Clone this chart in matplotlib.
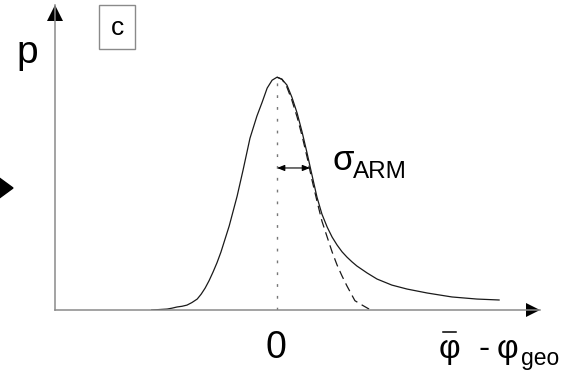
import matplotlib
matplotlib.use("Agg")
import matplotlib.pyplot as plt
from matplotlib.patches import Rectangle, Polygon
from matplotlib.lines import Line2D
from matplotlib.transforms import offset_copy

# Fuente tipo Helvetica para todo el dibujo
plt.rcParams['font.family'] = ['Liberation Sans', 'DejaVu Sans']

# Distribucion medida (linea continua), x en unidades de sigma, p normalizada al pico
solid_x = [-3.8, -3.33, -3.18, -3.03, -2.88, -2.73, -2.58, -2.42, -2.30, -2.18,
           -2.06, -1.94, -1.82, -1.70, -1.45, -1.21, -1.03, -0.82, -0.61, -0.45,
           -0.30, -0.15, 0.0, 0.15, 0.30, 0.45, 0.61, 0.76, 0.91, 1.06,
           1.21, 1.36, 1.52, 1.67, 1.82, 1.97, 2.12, 2.27, 2.42, 2.73,
           3.03, 3.48, 3.94, 4.55, 5.30, 6.06, 6.73]
solid_p = [0.0, 0.004, 0.008, 0.013, 0.016, 0.021, 0.032, 0.047, 0.068, 0.094,
           0.126, 0.163, 0.203, 0.249, 0.361, 0.489, 0.601, 0.738, 0.833, 0.893,
           0.953, 0.987, 1.0, 0.991, 0.966, 0.914, 0.845, 0.764, 0.674, 0.579,
           0.485, 0.412, 0.356, 0.313, 0.279, 0.250, 0.227, 0.207, 0.189, 0.159,
           0.133, 0.107, 0.090, 0.073, 0.056, 0.047, 0.043]

# Gaussiana de referencia (linea discontinua), solo el flanco derecho
gauss_x = [0.0, 0.15, 0.30, 0.45, 0.61, 0.76, 0.91, 1.06, 1.21, 1.36,
           1.52, 1.67, 1.82, 1.97, 2.12, 2.36, 2.58, 2.79]
gauss_p = [1.0, 0.991, 0.957, 0.901, 0.828, 0.747, 0.657, 0.558, 0.468, 0.382,
           0.313, 0.249, 0.193, 0.146, 0.103, 0.040, 0.021, 0.004]

# Ancho sigma_ARM marcado con la flecha doble
sigma_arm = 1.0
sigma_level = 0.61

x_min, x_max = -6.73, 7.97
p_max = 1.31

W, H = 561, 374
fig = plt.figure(figsize=(W / 100, H / 100), dpi=100)
ax = fig.add_axes([55 / W, 64 / H, 485 / W, 305 / H])
ax.set_xlim(x_min, x_max)
ax.set_ylim(0, p_max)

for s in ['top', 'right']:
    ax.spines[s].set_visible(False)
for s in ['left', 'bottom']:
    ax.spines[s].set_color('#8a8a8a')
    ax.spines[s].set_linewidth(1.1)
ax.set_xticks([])
ax.set_yticks([])

# Puntas de flecha de los ejes
ax.plot(1, 0, marker='>', ms=10, mew=0, color='k', clip_on=False,
        transform=offset_copy(ax.transAxes, fig=fig, x=-7, y=0, units='dots'))
ax.plot(0, 1, marker='^', ms=11.5, mew=0, color='k', clip_on=False,
        transform=offset_copy(ax.transAxes, fig=fig, x=0, y=-8, units='dots'))

# Curvas
ax.plot(solid_x, solid_p, color='#1a1a1a', lw=0.9, solid_joinstyle='round')
ax.plot(gauss_x, gauss_p, color='#1a1a1a', lw=0.9, linestyle=(0, (7, 4)))

# Linea punteada en el cero
ax.plot([0, 0], [0, max(solid_p)], color='#777777', lw=1.0, linestyle=(0, (2, 6.5)))

# Flecha doble de sigma_ARM
ax.annotate('', xy=(sigma_arm, sigma_level), xytext=(0, sigma_level),
            arrowprops=dict(arrowstyle='<|-|>,head_length=0.45,head_width=0.18',
                            color='k', lw=0.8, shrinkA=0, shrinkB=0))

# Textos
fig.text(27 / W, 1 - 63 / H, 'p', fontsize=28, ha='center', va='baseline')
fig.text(276 / W, 1 - 358 / H, '0', fontsize=27, ha='center', va='baseline')
fig.text(332 / W, 1 - 170 / H, 'σ', fontsize=25, ha='left', va='baseline')
fig.text(353 / W, 1 - 178 / H, 'ARM', fontsize=17.5, ha='left', va='baseline')

# Etiqueta del eje x: phi media menos phi_geo
fig.text(449.5 / W, 1 - 358 / H, 'φ', fontsize=24, ha='center', va='baseline')
fig.add_artist(Line2D([443 / W, 456 / W], [1 - 332 / H, 1 - 332 / H],
                      transform=fig.transFigure, color='k', lw=1.1))
fig.text(484 / W, 1 - 358 / H, '-', fontsize=24, ha='center', va='baseline')
fig.text(507.5 / W, 1 - 358 / H, 'φ', fontsize=24, ha='center', va='baseline')
fig.text(521 / W, 1 - 365 / H, 'geo', fontsize=16.5, ha='left', va='baseline')

# Recuadro con la letra del panel
fig.patches.append(Rectangle((99 / W, 1 - 49 / H), 36 / W, 44 / H, transform=fig.transFigure,
                             fill=False, edgecolor='#8a8a8a', lw=1.0))
fig.text(117 / W, 1 - 35 / H, 'c', fontsize=19, ha='center', va='baseline')

# Flecha que entra desde el panel anterior
fig.patches.append(Polygon([(-2 / W, 1 - 177 / H), (13 / W, 1 - 188 / H), (-2 / W, 1 - 199 / H)],
                           closed=True, transform=fig.transFigure, color='k'))

fig.savefig('out.png', dpi=100)
